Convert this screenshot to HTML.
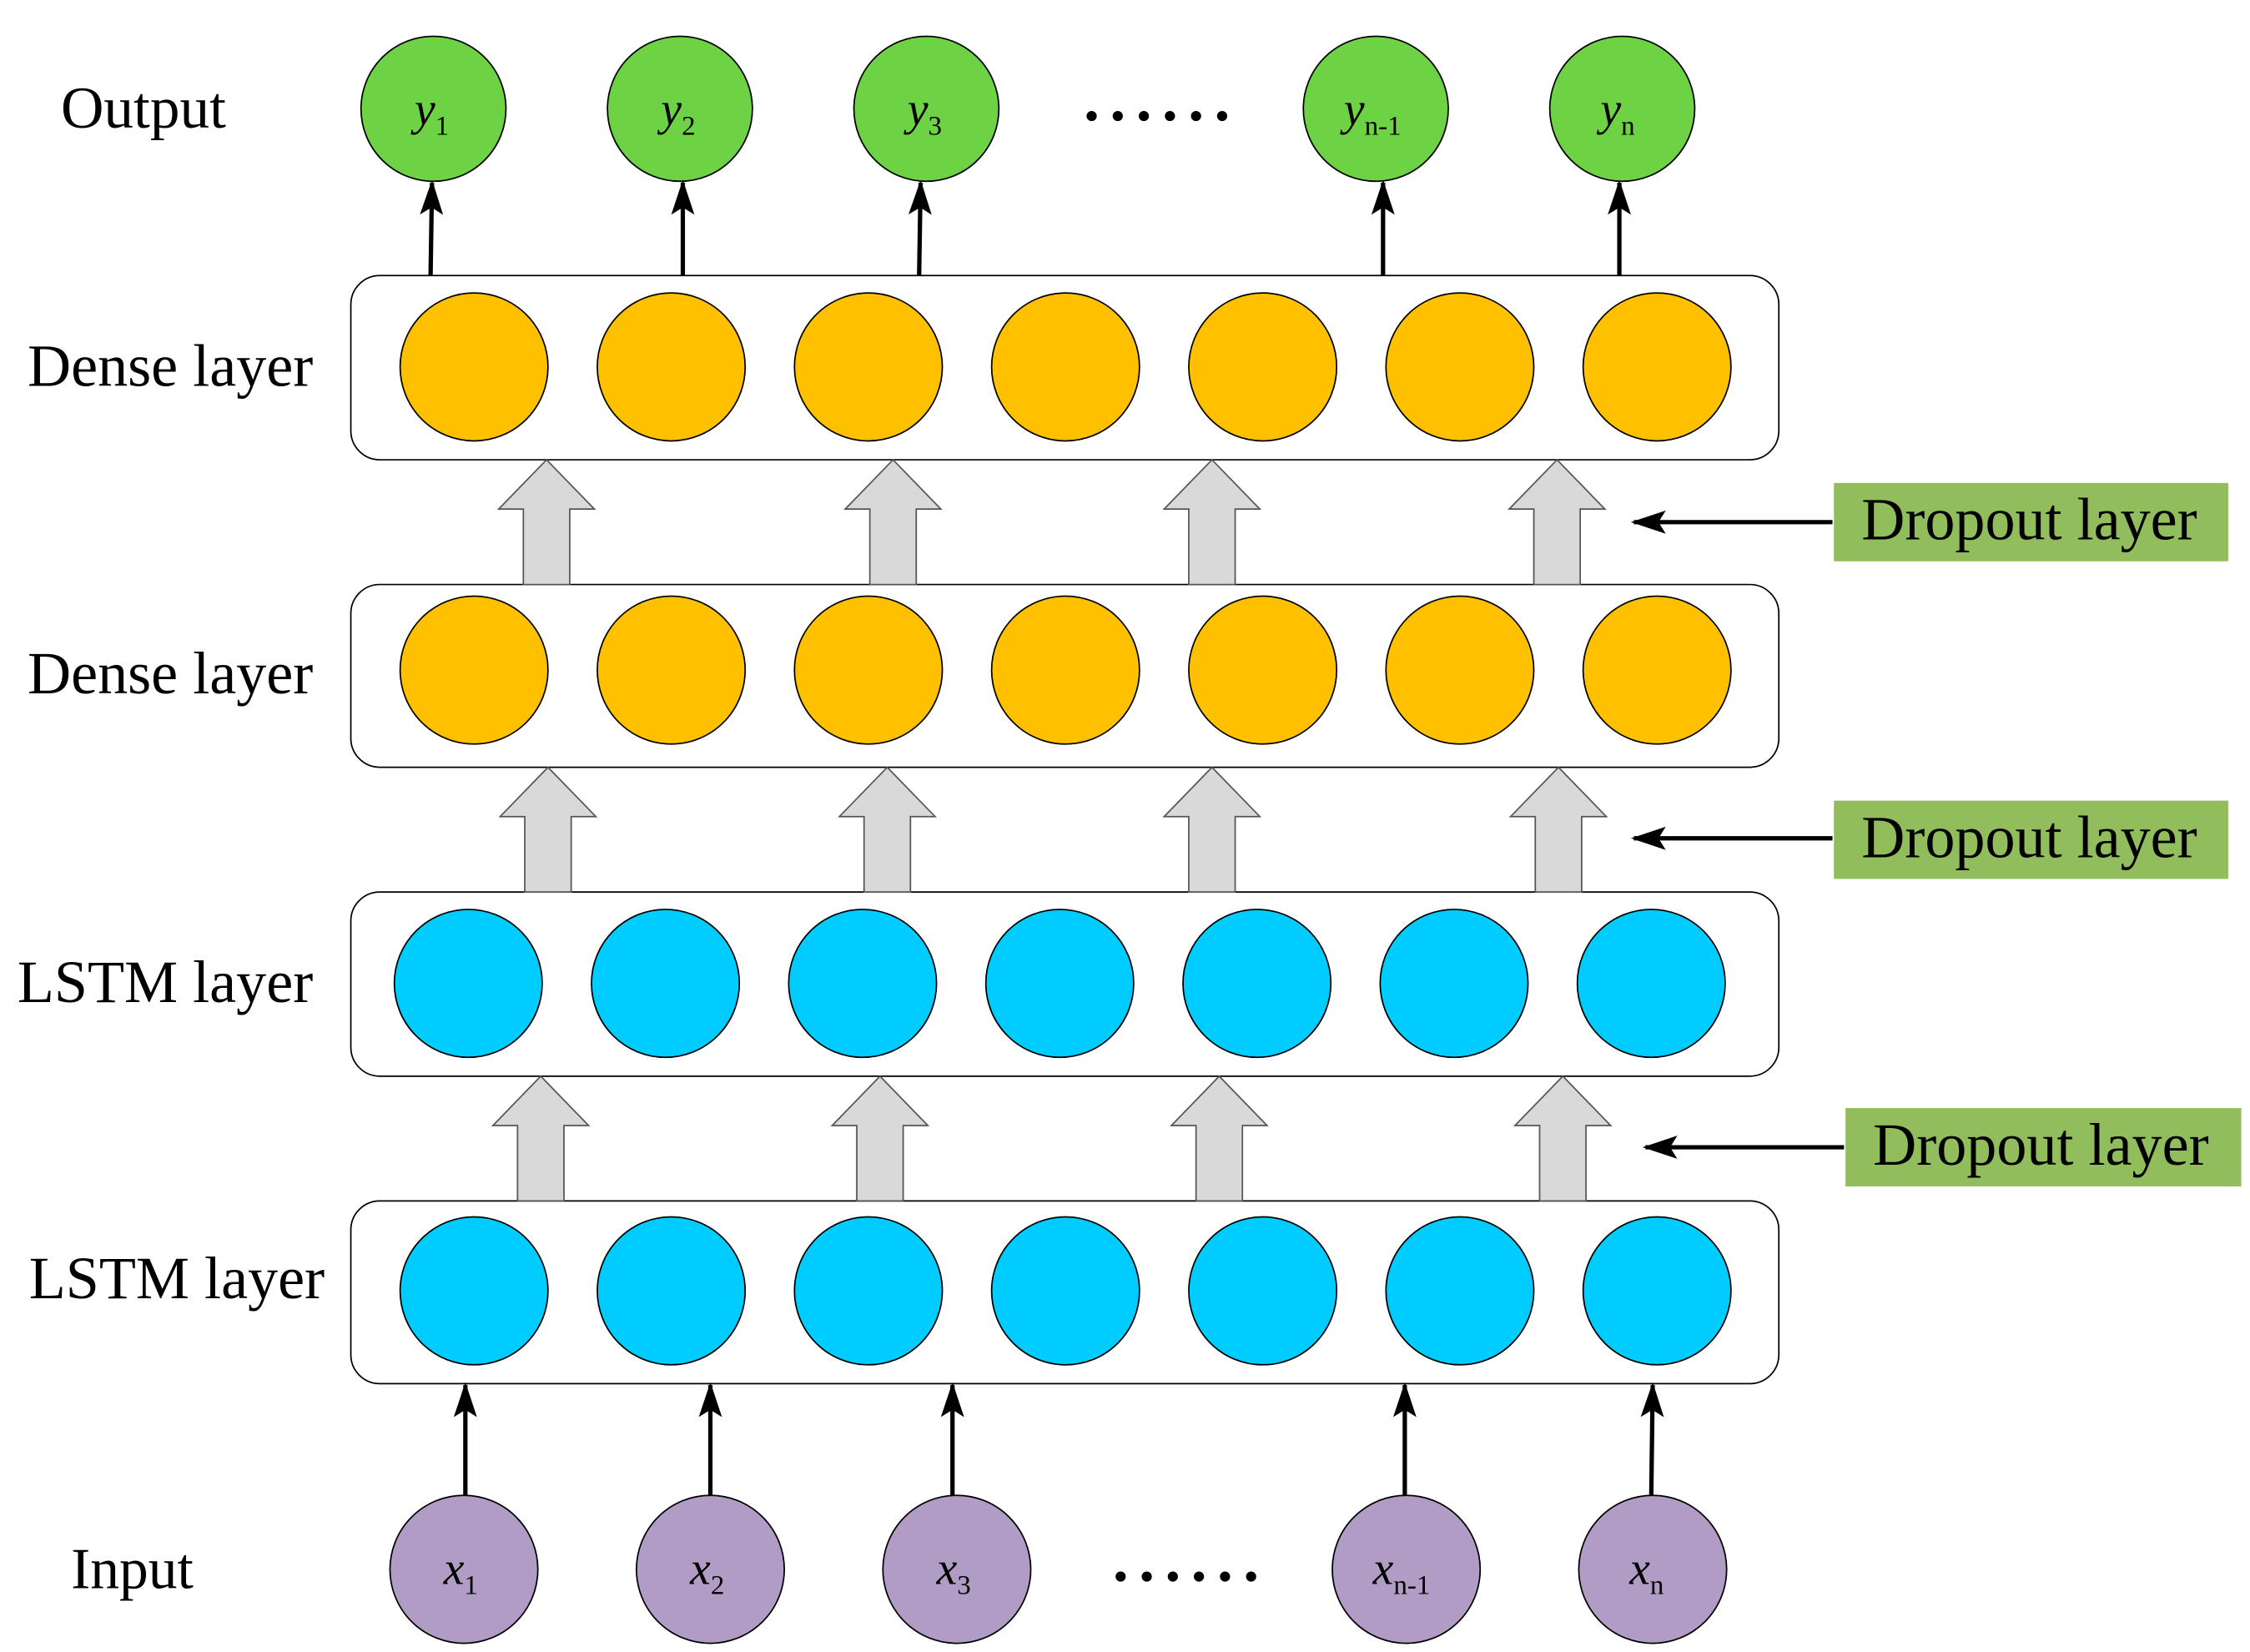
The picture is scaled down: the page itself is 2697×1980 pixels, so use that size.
<!DOCTYPE html>
<html><head><meta charset="utf-8"><style>
html,body{margin:0;padding:0;background:#fff;}
svg{display:block;}
text{font-family:"Liberation Serif",serif;fill:#000;}
</style></head><body>
<svg width="2697" height="1980" viewBox="0 0 1552 1139" preserveAspectRatio="none" xmlns="http://www.w3.org/2000/svg">
<defs>
<marker id="ah" markerWidth="24" markerHeight="16" refX="22" refY="8" orient="auto" markerUnits="userSpaceOnUse" viewBox="0 0 24 16">
<path d="M0,0 L24,8 L0,16 L5,8 Z" fill="#000"/>
</marker>
</defs>
<rect width="1552" height="1139" fill="#fff"/>
<text x="42" y="88" font-size="41">Output</text>
<text x="19" y="266" font-size="41.5">Dense layer</text>
<text x="19" y="478" font-size="41.5">Dense layer</text>
<text x="12" y="691" font-size="41.5">LSTM layer</text>
<text x="20" y="895" font-size="41.5">LSTM layer</text>
<text x="49" y="1095" font-size="40">Input</text>

<g fill="#fff" stroke="#000" stroke-width="1">
<rect x="242" y="190" width="985" height="127" rx="20"/>
<rect x="242" y="403" width="985" height="126" rx="20"/>
<rect x="242" y="615" width="985" height="127" rx="20"/>
<rect x="242" y="828" width="985" height="126" rx="20"/>
</g>

<g fill="#ffc000" stroke="#000" stroke-width="1">
<circle cx="327" cy="253" r="51"/><circle cx="463" cy="253" r="51"/><circle cx="599" cy="253" r="51"/><circle cx="735" cy="253" r="51"/><circle cx="871" cy="253" r="51"/><circle cx="1007" cy="253" r="51"/><circle cx="1143" cy="253" r="51"/>
<circle cx="327" cy="462" r="51"/><circle cx="463" cy="462" r="51"/><circle cx="599" cy="462" r="51"/><circle cx="735" cy="462" r="51"/><circle cx="871" cy="462" r="51"/><circle cx="1007" cy="462" r="51"/><circle cx="1143" cy="462" r="51"/>
</g>
<g fill="#00ccff" stroke="#000" stroke-width="1">
<circle cx="323" cy="678" r="51"/><circle cx="459" cy="678" r="51"/><circle cx="595" cy="678" r="51"/><circle cx="731" cy="678" r="51"/><circle cx="867" cy="678" r="51"/><circle cx="1003" cy="678" r="51"/><circle cx="1139" cy="678" r="51"/>
<circle cx="327" cy="890" r="51"/><circle cx="463" cy="890" r="51"/><circle cx="599" cy="890" r="51"/><circle cx="735" cy="890" r="51"/><circle cx="871" cy="890" r="51"/><circle cx="1007" cy="890" r="51"/><circle cx="1143" cy="890" r="51"/>
</g>

<g fill="#d9d9d9" stroke="#555" stroke-width="1">
<path d="M-16,86 L-16,34 L-33,34 L0,0 L33,34 L16,34 L16,86 Z" transform="translate(377,317)"/>
<path d="M-16,86 L-16,34 L-33,34 L0,0 L33,34 L16,34 L16,86 Z" transform="translate(616,317)"/>
<path d="M-16,86 L-16,34 L-33,34 L0,0 L33,34 L16,34 L16,86 Z" transform="translate(836,317)"/>
<path d="M-16,86 L-16,34 L-33,34 L0,0 L33,34 L16,34 L16,86 Z" transform="translate(1074,317)"/>
<path d="M-16,86 L-16,34 L-33,34 L0,0 L33,34 L16,34 L16,86 Z" transform="translate(378,529)"/>
<path d="M-16,86 L-16,34 L-33,34 L0,0 L33,34 L16,34 L16,86 Z" transform="translate(612,529)"/>
<path d="M-16,86 L-16,34 L-33,34 L0,0 L33,34 L16,34 L16,86 Z" transform="translate(836,529)"/>
<path d="M-16,86 L-16,34 L-33,34 L0,0 L33,34 L16,34 L16,86 Z" transform="translate(1075,529)"/>
<path d="M-16,86 L-16,34 L-33,34 L0,0 L33,34 L16,34 L16,86 Z" transform="translate(373,742)"/>
<path d="M-16,86 L-16,34 L-33,34 L0,0 L33,34 L16,34 L16,86 Z" transform="translate(607,742)"/>
<path d="M-16,86 L-16,34 L-33,34 L0,0 L33,34 L16,34 L16,86 Z" transform="translate(841,742)"/>
<path d="M-16,86 L-16,34 L-33,34 L0,0 L33,34 L16,34 L16,86 Z" transform="translate(1078,742)"/>
</g>

<g stroke="#000" stroke-width="3" marker-end="url(#ah)">
<line x1="297" y1="190" x2="298" y2="126"/>
<line x1="471" y1="190" x2="471" y2="126"/>
<line x1="634" y1="190" x2="635" y2="126"/>
<line x1="954" y1="190" x2="954" y2="126"/>
<line x1="1117" y1="190" x2="1117" y2="126"/>
<line x1="321" y1="1032" x2="321" y2="955"/>
<line x1="490" y1="1032" x2="490" y2="955"/>
<line x1="657" y1="1032" x2="657" y2="955"/>
<line x1="969" y1="1032" x2="969" y2="955"/>
<line x1="1139" y1="1032" x2="1140" y2="955"/>
<line x1="1264" y1="360" x2="1127" y2="360"/>
<line x1="1264" y1="578" x2="1127" y2="578"/>
<line x1="1272" y1="791" x2="1135" y2="791"/>
</g>

<g fill="#92bd5c">
<rect x="1265" y="333" width="272" height="54"/>
<rect x="1265" y="552" width="272" height="54"/>
<rect x="1273" y="764" width="273" height="54"/>
</g>
<text x="1284" y="372" font-size="41.5">Dropout layer</text>
<text x="1284" y="591" font-size="41.5">Dropout layer</text>
<text x="1292" y="803" font-size="41.5">Dropout layer</text>

<g fill="#6dd344" stroke="#000" stroke-width="1">
<circle cx="299" cy="75" r="50"/><circle cx="469" cy="75" r="50"/><circle cx="639" cy="75" r="50"/><circle cx="949" cy="75" r="50"/><circle cx="1119" cy="75" r="50"/>
</g>
<g font-size="32" font-style="italic">
<text x="286" y="86">y<tspan font-style="normal" font-size="19" dy="7">1</tspan></text>
<text x="456" y="86">y<tspan font-style="normal" font-size="19" dy="7">2</tspan></text>
<text x="626" y="86">y<tspan font-style="normal" font-size="19" dy="7">3</tspan></text>
<text x="927" y="86">y<tspan font-style="normal" font-size="19" dy="7">n-1</tspan></text>
<text x="1104" y="86">y<tspan font-style="normal" font-size="19" dy="7">n</tspan></text>
</g>
<g fill="#000">
<circle cx="753" cy="80" r="3.5"/><circle cx="771" cy="80" r="3.5"/><circle cx="789" cy="80" r="3.5"/><circle cx="807" cy="80" r="3.5"/><circle cx="825" cy="80" r="3.5"/><circle cx="843" cy="80" r="3.5"/>
<circle cx="773" cy="1087" r="3.5"/><circle cx="791" cy="1087" r="3.5"/><circle cx="809" cy="1087" r="3.5"/><circle cx="827" cy="1087" r="3.5"/><circle cx="845" cy="1087" r="3.5"/><circle cx="863" cy="1087" r="3.5"/>
</g>

<g fill="#b09cc4" stroke="#000" stroke-width="1">
<circle cx="320" cy="1082" r="51"/><circle cx="490" cy="1082" r="51"/><circle cx="660" cy="1082" r="51"/><circle cx="970" cy="1082" r="51"/><circle cx="1140" cy="1082" r="51"/>
</g>
<g font-size="32" font-style="italic">
<text x="306" y="1092">x<tspan font-style="normal" font-size="19" dy="7">1</tspan></text>
<text x="476" y="1092">x<tspan font-style="normal" font-size="19" dy="7">2</tspan></text>
<text x="646" y="1092">x<tspan font-style="normal" font-size="19" dy="7">3</tspan></text>
<text x="947" y="1092">x<tspan font-style="normal" font-size="19" dy="7">n-1</tspan></text>
<text x="1124" y="1092">x<tspan font-style="normal" font-size="19" dy="7">n</tspan></text>
</g>
</svg>
</body></html>
